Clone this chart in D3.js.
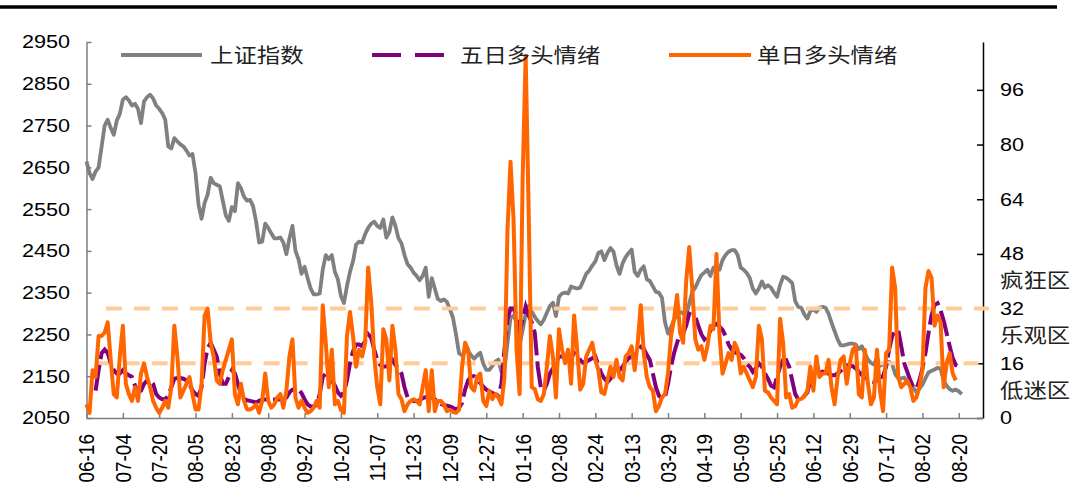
<!DOCTYPE html>
<html>
<head>
  <meta charset="utf-8">
  <script src="https://cdn.jsdelivr.net/npm/d3@7"></script>
  <style>
    body { margin: 0; background: #fff; }
    text { font-family: "Liberation Sans", Arial, sans-serif; fill: #000; }
    text.cjk { font-family: "Noto Sans CJK SC", sans-serif; fill: #222; }
  </style>
</head>
<body>
  <svg width="1072" height="503"></svg>

  <script>

  // x axis labels, one every 12 trading days
  var tickLabels = ["06-16","07-04","07-20","08-05","08-23","09-08","09-27","10-20","11-07","11-23",
    "12-09","12-27","01-16","02-08","02-24","03-13","03-29","04-19","05-09","05-25",
    "06-12","06-29","07-17","08-02","08-20"];

  // 上证指数 (left axis), one value per trading day
  var shIndex = [
    2664,2636,2622,2640,2650,2700,2750,2764,2744,2728,
    2762,2778,2812,2818,2810,2798,2802,2790,2756,2808,
    2818,2824,2815,2798,2790,2780,2764,2700,2695,2720,
    2712,2705,2700,2690,2678,2682,2636,2560,2527,2565,
    2585,2625,2612,2608,2605,2570,2535,2522,2555,2545,
    2612,2600,2580,2570,2572,2557,2520,2470,2472,2515,
    2505,2492,2480,2480,2482,2470,2442,2480,2510,2450,
    2430,2395,2412,2385,2360,2346,2346,2348,2405,2440,
    2430,2440,2400,2382,2342,2325,2366,2400,2425,2465,
    2472,2470,2490,2505,2515,2520,2510,2505,2525,2482,
    2495,2530,2510,2480,2468,2440,2418,2410,2398,2390,
    2380,2390,2410,2340,2385,2360,2335,2330,2334,2328,
    2310,2290,2250,2205,2200,2210,2210,2200,2192,2200,
    2206,2180,2165,2165,2175,2185,2190,2160,2165,2230,
    2290,2295,2280,2225,2260,2300,2318,2305,2292,2282,
    2274,2285,2302,2318,2326,2294,2340,2348,2350,2348,
    2365,2362,2360,2362,2378,2395,2403,2415,2425,2445,
    2449,2428,2445,2457,2448,2415,2395,2420,2435,2445,
    2453,2400,2390,2405,2413,2382,2378,2365,2352,2350,
    2338,2280,2252,2268,2285,2298,2305,2300,2294,2324,
    2352,2362,2378,2392,2398,2405,2390,2410,2410,2405,
    2428,2440,2448,2452,2452,2440,2410,2405,2397,2385,
    2360,2348,2360,2377,2362,2368,2362,2350,2340,2368,
    2388,2386,2380,2373,2330,2316,2314,2298,2288,2306,
    2310,2304,2314,2316,2314,2300,2278,2258,2238,2224,
    2224,2226,2228,2228,2226,2215,2222,2205,2190,2182,
    2178,2194,2175,2178,2186,2184,2180,2155,2145,2145,
    2147,2136,2130,2122,2112,2120,2130,2145,2159,2163,
    2166,2170,2168,2140,2127,2119,2115,2118,2114,2107
  ];

  // 五日多头情绪 (right axis)
  var bullFive = [
    null,null,null,8,14,19,20,19,16,14,
    13,13,14,13,12.5,12,9.5,7.5,8,10,
    11,11,10,7,6,5.5,5.5,6.5,9,11.5,
    11.7,11.7,11.5,11,10,8,7,6.5,9,16,
    20.5,22,20,18,13,10,10,12,14,13,
    10,7,5.5,5.2,5,4.8,4.5,5,5.4,5.4,
    5.4,5.4,5.4,5.4,5.4,5.4,6,7.5,8.3,8.3,
    8.3,7.3,5.5,4,3.4,3.4,3.8,7,12,13,
    12.5,11,9.5,7.5,6.5,7.5,11,16,19.5,21.5,
    21.5,21,22.5,24.5,23.5,20,17,15.5,15,15.1,
    16,17,15.5,14.5,13,9,6,5.2,5,4.9,
    5.2,5.8,6.1,6.3,6,5.5,4.8,4.1,3.8,3.6,
    3.4,3,2.5,3,4.4,8.3,11,12.2,12.2,11.5,
    10.2,9.2,8.3,7.8,7.3,7,6.5,10,20,29,
    32,32,30,25,29,32.6,30,28,25,15,
    9,8,10,13,14.5,16,18,18,18,17,
    17.5,19,18,17,16.2,16.5,17,17.5,18,15.5,
    13,11.5,10.5,11.5,12.8,13.5,14,15,16.5,17.5,
    18,18,19.5,20.8,20.3,18.5,17,13,9,6.5,
    5.8,6,10,15,19,22,24.8,24.8,27,30.5,
    30,29.7,27,24.5,23,24,25.5,27,27.5,26.8,
    25.8,24,21.5,20,19.2,19,18.5,17.5,15.8,15,
    13.5,14.5,16,15,13,11.5,9.5,9,12,15,
    17,17,15,11,7,5.4,5.6,6.5,7.5,11,
    13,13.1,13.3,13.6,13.3,13,12.5,12.5,13,13.8,
    14.8,15.4,15.4,15.1,14.5,13.5,12.6,12,11.2,10.6,
    10.5,11,11.8,12.2,15,20,24,25.5,25.8,21,
    16,13.5,11,9,8.5,11,14.5,19,24.8,30,
    33,33.6,31.5,28.5,24.8,21,17.5,15.5,15
  ];

  // 单日多头情绪 (right axis)
  var bullDay = [
    4,1.5,14,12,24,24,25,28,17,7,
    6,18,27,10,7,5,9,5,13,16,
    12,9,5,3,1.5,3,5,3,9,27,
    18,6,8,10,12,7,2.5,2.5,10,30,
    32,22,18,11,10,14,17,20,23,7,
    4,10,5,2.5,2.5,3,4,1.5,5,13,
    5,3,4,6,7,3,8,18,23,6,
    3,5,3,1.5,2,3,5,3,33,22,
    9,20,4,5,2.4,1.5,24,31,24,15,
    20,18,22,44,34,18,9,4,26,23,
    11,27,20,7,5.5,2,4,5,5.5,5,
    4,9,14,2,14,2,5,5,4,2,
    2.4,1.8,1.5,2.4,15,22,20,9,8,12,
    13,5,3.5,8,5.5,7,6,4,12,55,
    75,58,20,7,70,106,60,9,8.5,5.5,
    5,7,15,24,18,6,26,20,16,20,
    10,30,20,8.3,10,18,20,22,17,14,
    7.5,7,11,15,12,17,12,11,18,19,
    21,14,22,33,19,12,9,8,2,3.5,
    6,7,13,24,29,36,25,22,40,50,
    38,23,20,21,17,21,27,26,48,24,
    13,16,19,17,22,20,13,15,13,11,
    9,12,27,23,8,7.5,6,5,4,29,
    22,6,7,3,3.5,5.4,5.6,6.3,8,15,
    8,18,12,13,13,17,9,4,12,17,
    18,10,16,20,21,7,6,20,10,4,
    6,20,8,2,19,20,44,38,12,9,
    10,11,9,5,6,9,14,38,43,41,
    27,30,28,9,16,19,13,11
  ];

  var leftTicks = [2050,2150,2250,2350,2450,2550,2650,2750,2850,2950];
  var rightTicks = [0,16,32,48,64,80,96];
  var zoneLines = [32, 16];
  var zoneNames = ["疯狂区","乐观区","低迷区"];
  var zoneMids = [40, 24, 8];

  var svg = d3.select("svg");

  var x = d3.scaleLinear().domain([0, 296]).range([86.5, 983]);
  var yL = d3.scaleLinear().domain([2050, 2950]).range([418, 42]);
  var yR = d3.scaleLinear().domain([0, 110]).range([418, 42]);

  // top rule
  svg.append("line")
  .attr("x1", 0).attr("x2", 1057)
  .attr("y1", 7).attr("y2", 7)
  .attr("stroke", "#000")
  .attr("stroke-width", 3.5);

  // axes (ticks point inward)
  svg.append("g")
  .attr("transform", "translate(86.5,0)")
  .call(d3.axisLeft(yL).tickValues(leftTicks).tickSizeInner(-5).tickSizeOuter(0).tickFormat(""))
  .call(function(g) { g.selectAll("line,path").attr("stroke", "#7f7f7f").attr("stroke-width", 1.5); });

  svg.append("g")
  .attr("transform", "translate(983,0)")
  .call(d3.axisRight(yR).tickValues(rightTicks).tickSizeInner(-6).tickSizeOuter(0).tickFormat(""))
  .call(function(g) { g.selectAll("line,path").attr("stroke", "#000").attr("stroke-width", 1.5); });

  svg.append("g")
  .attr("transform", "translate(0,418)")
  .call(d3.axisBottom(x).tickValues(d3.range(0, 289, 12)).tickSizeInner(-5).tickSizeOuter(0).tickFormat(""))
  .call(function(g) { g.selectAll("line,path").attr("stroke", "#7f7f7f").attr("stroke-width", 1.5); });

  // tick labels (the source picture is stretched sideways, hence the scale)
  svg.append("g").selectAll("text")
  .data(leftTicks).enter().append("text")
  .attr("transform", function(d) { return "translate(70," + yL(d) + ") scale(1.2,1)"; })
  .attr("text-anchor", "end")
  .attr("dy", "0.36em")
  .style("font-size", "18px")
  .text(function(d) { return d; });

  svg.append("g").selectAll("text")
  .data(rightTicks).enter().append("text")
  .attr("transform", function(d) { return "translate(1000," + yR(d) + ") scale(1.2,1)"; })
  .attr("dy", "0.36em")
  .style("font-size", "18px")
  .text(function(d) { return d; });

  svg.append("g").selectAll("text")
  .data(tickLabels).enter().append("text")
  .attr("transform", function(d, i) {
    return "translate(" + x(i * 12) + ",434) scale(1.15,1) rotate(-90)";
  })
  .attr("text-anchor", "end")
  .attr("dy", "0.36em")
  .style("font-size", "19px")
  .text(function(d) { return d; });

  // zone names on the right
  svg.append("g").selectAll("text")
  .data(zoneNames).enter().append("text")
  .attr("class", "cjk")
  .attr("transform", function(d, i) { return "translate(1000," + yR(zoneMids[i]) + ") scale(1.17,1)"; })
  .attr("dy", "0.36em")
  .style("font-size", "20px")
  .text(function(d) { return d; });

  // series
  var greyLine = d3.line()
  .x(function(d, i) { return x(i); })
  .y(function(d) { return yL(d); });

  var rightLine = d3.line()
  .defined(function(d) { return d != null; })
  .x(function(d, i) { return x(i); })
  .y(function(d) { return yR(d); });

  svg.append("path")
  .datum(shIndex)
  .attr("d", greyLine)
  .attr("fill", "none")
  .attr("stroke", "#808080")
  .attr("stroke-width", 3.8)
  .attr("stroke-linejoin", "round");

  // threshold lines
  var zoneFrom = [6.4, 3];
  var zoneTo = [298, 294.5];
  svg.append("g").selectAll("line")
  .data(zoneLines).enter().append("line")
  .attr("x1", function(d, i) { return x(zoneFrom[i]); })
  .attr("x2", function(d, i) { return x(zoneTo[i]); })
  .attr("y1", function(d) { return yR(d); })
  .attr("y2", function(d) { return yR(d); })
  .attr("stroke", "#ffcc99")
  .attr("stroke-width", 4)
  .attr("stroke-dasharray", "16,12");

  svg.append("path")
  .datum(bullFive)
  .attr("d", rightLine)
  .attr("fill", "none")
  .attr("stroke", "#800080")
  .attr("stroke-width", 4)
  .attr("stroke-dasharray", "26,6");

  svg.append("path")
  .datum(bullDay)
  .attr("d", rightLine)
  .attr("fill", "none")
  .attr("stroke", "#ff6600")
  .attr("stroke-width", 4)
  .attr("stroke-linejoin", "round");

  // legend
  var legend = svg.append("g").attr("class", "legend");

  legend.append("line")
  .attr("x1", 121).attr("x2", 202).attr("y1", 55).attr("y2", 55)
  .attr("stroke", "#808080").attr("stroke-width", 4);
  legend.append("text").attr("class", "cjk")
  .attr("transform", "translate(210,56) scale(1.17,1)")
  .attr("dy", "0.36em").style("font-size", "20px")
  .text("上证指数");

  legend.append("line")
  .attr("x1", 372).attr("x2", 444).attr("y1", 55).attr("y2", 55)
  .attr("stroke", "#800080").attr("stroke-width", 4)
  .attr("stroke-dasharray", "29,14");
  legend.append("text").attr("class", "cjk")
  .attr("transform", "translate(460,56) scale(1.17,1)")
  .attr("dy", "0.36em").style("font-size", "20px")
  .text("五日多头情绪");

  legend.append("line")
  .attr("x1", 669).attr("x2", 751).attr("y1", 55).attr("y2", 55)
  .attr("stroke", "#ff6600").attr("stroke-width", 4);
  legend.append("text").attr("class", "cjk")
  .attr("transform", "translate(757,56) scale(1.17,1)")
  .attr("dy", "0.36em").style("font-size", "20px")
  .text("单日多头情绪");

  </script>
</body>
</html>
